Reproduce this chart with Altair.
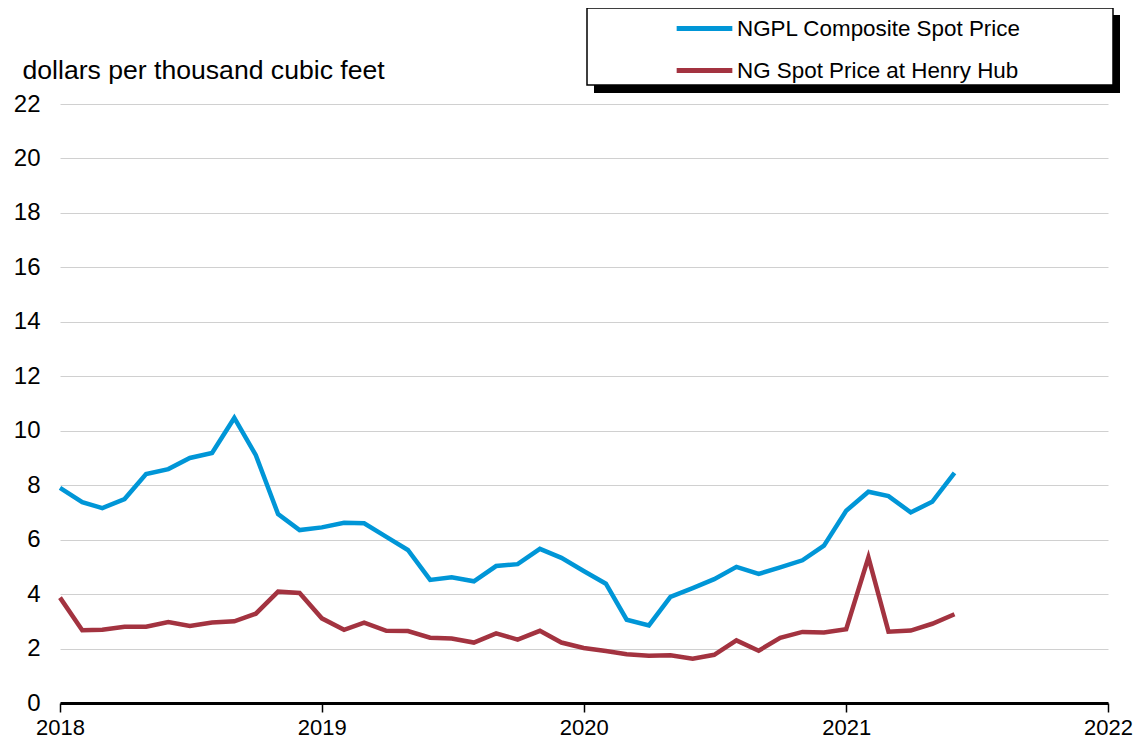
import altair as alt
import pandas as pd

months = pd.date_range("2018-01-01", "2021-06-01", freq="MS").strftime("%Y-%m-%d").tolist()

ngpl = [7.90, 7.38, 7.16, 7.49, 8.41, 8.59, 9.00, 9.18, 10.47, 9.10, 6.94, 6.35,
        6.45, 6.62, 6.60, 6.10, 5.62, 4.52, 4.62, 4.47, 5.03, 5.10, 5.66, 5.33,
        4.85, 4.38, 3.06, 2.85, 3.90, 4.22, 4.55, 5.00, 4.74, 4.98, 5.24, 5.78,
        7.06, 7.76, 7.60, 7.00, 7.39, 8.45]
henry = [3.87, 2.67, 2.69, 2.80, 2.80, 2.97, 2.83, 2.96, 3.00, 3.28, 4.09, 4.04,
         3.11, 2.69, 2.95, 2.65, 2.64, 2.40, 2.37, 2.22, 2.56, 2.33, 2.65, 2.22,
         2.02, 1.91, 1.79, 1.74, 1.75, 1.63, 1.77, 2.30, 1.92, 2.39, 2.61, 2.59,
         2.71, 5.35, 2.62, 2.66, 2.91, 3.26]

series_names = ["NGPL Composite Spot Price", "NG Spot Price at Henry Hub"]
series_colors = ["#0096D7", "#A33340"]
y_ticks = list(range(0, 23, 2))
x_years = [2018, 2019, 2020, 2021, 2022]

df = pd.DataFrame({
    "month": months * 2,
    "price": ngpl + henry,
    "series": [series_names[0]] * len(months) + [series_names[1]] * len(months),
})

FONT = "Liberation Sans"

x_enc = alt.X(
    "month:T",
    scale=alt.Scale(
        type="utc",
        domain=[alt.DateTime(year=2018, month=1, date=1, utc=True),
                alt.DateTime(year=2022, month=1, date=1, utc=True)],
    ),
    axis=alt.Axis(
        title=None,
        values=[alt.DateTime(year=y, month=1, date=1, utc=True) for y in x_years],
        format="%Y",
        formatType="utc",
        grid=False,
        domainColor="black",
        domainWidth=3,
        tickColor="black",
        tickWidth=1.5,
        tickSize=9,
        labelFontSize=22,
        labelFont=FONT,
        labelColor="black",
        labelPadding=5,
        labelFlush=False,
    ),
)

y_enc = alt.Y(
    "price:Q",
    scale=alt.Scale(domain=[0, 22], nice=False),
    axis=alt.Axis(
        title="dollars per thousand cubic feet",
        titleAngle=0,
        titleAlign="left",
        titleBaseline="alphabetic",
        titleX=-38,
        titleY=-26,
        titleFontSize=26.6,
        titleFontWeight="normal",
        titleFont=FONT,
        titleColor="black",
        values=y_ticks,
        domain=False,
        ticks=False,
        labelFontSize=24,
        labelFont=FONT,
        labelColor="black",
        labelPadding=20,
        gridColor="#d0d0d0",
        gridWidth=1,
    ),
)

lines = alt.Chart(df).mark_line(strokeWidth=4.5).encode(
    x=x_enc,
    y=y_enc,
    color=alt.Color(
        "series:N",
        scale=alt.Scale(domain=series_names, range=series_colors),
        legend=alt.Legend(
            title=None,
            orient="none",
            legendX=614,
            legendY=-106,
            symbolType="stroke",
            symbolSize=3100,
            symbolStrokeWidth=5,
            labelFontSize=22.4,
            labelFont=FONT,
            labelColor="black",
            labelLimit=500,
            labelOffset=2,
            rowPadding=-11,
            padding=0,
        ),
    ),
)

frame_df = pd.DataFrame({"k": [0]})
shadow = alt.Chart(frame_df).mark_rect(color="black").encode(
    x=alt.value(534), x2=alt.value(1060), y=alt.value(-89), y2=alt.value(-11)
)
box = alt.Chart(frame_df).mark_rect(fill="white", stroke="black", strokeWidth=1.5).encode(
    x=alt.value(527), x2=alt.value(1053), y=alt.value(-96), y2=alt.value(-19)
)

chart = alt.layer(shadow, box, lines).properties(
    width=1048,
    height=599,
    background="white",
    autosize=alt.AutoSizeParams(type="none"),
    padding={"left": 52, "top": 96, "right": 26, "bottom": 41},
).configure_view(stroke=None)

chart.save("out.html", embed_options={"renderer": "svg", "actions": False})
